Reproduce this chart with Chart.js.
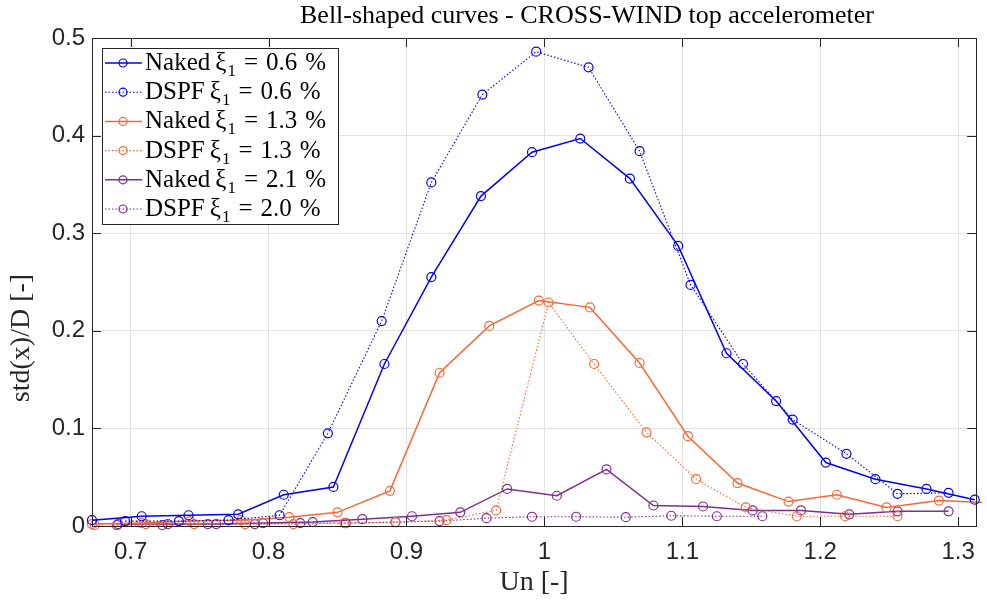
<!DOCTYPE html>
<html>
<head>
<meta charset="utf-8">
<title>Bell-shaped curves - CROSS-WIND top accelerometer</title>
<script src="https://cdn.jsdelivr.net/npm/chart.js@4.4.1/dist/chart.umd.min.js"></script>
<style>
  html, body { margin: 0; padding: 0; background: #fff; }
  #wrap { width: 987px; height: 603px; position: relative; }
</style>
</head>
<body>
<div id="wrap"><canvas id="graphic"></canvas></div>
<script>
// values
const xNaked06 = [0.672, 0.708, 0.742, 0.778, 0.811, 0.847, 0.884, 0.918, 0.954, 0.991, 1.026, 1.062, 1.097, 1.132, 1.168, 1.204, 1.240, 1.277, 1.312]
const yNaked06 = [0.006, 0.010, 0.011, 0.012, 0.032, 0.040, 0.166, 0.255, 0.338, 0.383, 0.397, 0.356, 0.287, 0.177, 0.128, 0.065, 0.048, 0.038, 0.027]

const xDspf06 = [0.696, 0.735, 0.771, 0.808, 0.843, 0.882, 0.918, 0.955, 0.994, 1.032, 1.069, 1.106, 1.144, 1.180, 1.219, 1.256, 1.293]
const yDspf06 = [0.005, 0.005, 0.006, 0.011, 0.095, 0.210, 0.352, 0.442, 0.486, 0.470, 0.384, 0.247, 0.166, 0.109, 0.074, 0.033, 0.034]

const xNaked13 = [0.672, 0.708, 0.743, 0.780, 0.815, 0.850, 0.888, 0.924, 0.960, 0.996, 1.033, 1.069, 1.104, 1.140, 1.177, 1.212, 1.248, 1.286, 1.321]
const yNaked13 = [0.002, 0.003, 0.005, 0.006, 0.009, 0.014, 0.036, 0.157, 0.205, 0.231, 0.224, 0.167, 0.092, 0.044, 0.025, 0.032, 0.019, 0.026, 0.024]

const xDspf13 = [0.674, 0.711, 0.746, 0.783, 0.818, 0.855, 0.892, 0.929, 0.965, 1.003, 1.036, 1.074, 1.110, 1.146, 1.183, 1.218, 1.256]
const yDspf13 = [0.001, 0.002, 0.002, 0.002, 0.002, 0.003, 0.004, 0.006, 0.016, 0.229, 0.166, 0.096, 0.048, 0.019, 0.010, 0.010, 0.010]

const xNaked21 = [0.691, 0.727, 0.762, 0.796, 0.832, 0.868, 0.904, 0.939, 0.973, 1.009, 1.045, 1.079, 1.115, 1.151, 1.186, 1.221, 1.256, 1.293]
const yNaked21 = [0.002, 0.002, 0.002, 0.003, 0.004, 0.007, 0.010, 0.014, 0.038, 0.031, 0.058, 0.021, 0.020, 0.016, 0.016, 0.012, 0.015, 0.015]

const xDspf20 = [0.690, 0.723, 0.756, 0.790, 0.823, 0.856, 0.892, 0.924, 0.958, 0.991, 1.023, 1.059, 1.092, 1.125, 1.158]
const yDspf20 = [0.001, 0.001, 0.002, 0.002, 0.003, 0.003, 0.004, 0.005, 0.008, 0.0095, 0.0095, 0.009, 0.0105, 0.010, 0.010]

const xTicks = [0.7, 0.8, 0.9, 1.0, 1.1, 1.2, 1.3]
const yTicks = [0, 0.1, 0.2, 0.3, 0.4, 0.5]
const seriesNames = ['Naked', 'DSPF', 'Naked', 'DSPF', 'Naked', 'DSPF']
const dampings = ['0.6', '0.6', '1.3', '1.3', '2.1', '2.0']
const chartTitle = 'Bell-shaped curves - CROSS-WIND top accelerometer'
const xLabel = 'Un [-]'
const yLabel = 'std(x)/D [-]'

const BLUE = '#0000ff'
const ORANGE = '#ff6633'
const PURPLE = '#7e2f8e'
const INK = '#262626'

const makeSet = (xs, ys, color, dotted, i) => ({
  label: `${seriesNames[i]} ξ₁ = ${dampings[i]} %`,
  data: xs.map((x, k) => ({x, y: ys[k]})),
  borderColor: color,
  borderWidth: dotted ? 1.1 : 1.5,
  borderDash: dotted ? [1.5, 2] : [],
  pointRadius: 4.5,
  pointBorderWidth: 1.2,
  pointBorderColor: color,
  pointBackgroundColor: 'rgba(0,0,0,0)',
  tension: 0,
  clip: 6
})

// MATLAB style box with inward ticks
const axesFrame = {
  id: 'axesFrame',
  afterDatasetsDraw(chart) {
    const {ctx, chartArea: a, scales: {x, y}} = chart
    ctx.save()
    ctx.strokeStyle = INK
    ctx.lineWidth = 1
    ctx.beginPath()
    x.ticks.forEach(t => {
      const px = Math.round(x.getPixelForValue(t.value)) + 0.5
      ctx.moveTo(px, a.bottom); ctx.lineTo(px, a.bottom - 9)
      ctx.moveTo(px, a.top); ctx.lineTo(px, a.top + 9)
    })
    y.ticks.forEach(t => {
      const py = Math.round(y.getPixelForValue(t.value)) + 0.5
      ctx.moveTo(a.left, py); ctx.lineTo(a.left + 9, py)
      ctx.moveTo(a.right, py); ctx.lineTo(a.right - 9, py)
    })
    ctx.stroke()
    ctx.strokeRect(Math.round(a.left) + 0.5, Math.round(a.top) + 0.5, Math.round(a.right - a.left), Math.round(a.bottom - a.top))
    ctx.restore()
  }
}

// title, y label and boxed legend (with subscript) drawn on the canvas
const decorations = {
  id: 'decorations',
  afterDraw(chart) {
    const {ctx, chartArea: a} = chart
    ctx.save()
    ctx.fillStyle = '#000'
    ctx.textAlign = 'center'
    ctx.textBaseline = 'alphabetic'
    ctx.font = '26px "Liberation Serif"'
    ctx.fillText(chartTitle, 587, 23)

    ctx.save()
    ctx.translate(22, 338)
    ctx.rotate(-Math.PI / 2)
    ctx.fillStyle = INK
    ctx.textBaseline = 'middle'
    ctx.font = '28px "Liberation Serif"'
    ctx.fillText(yLabel, 0, 0)
    ctx.restore()

    const left = a.left + 10, top = a.top + 10, w = 236, h = 176, pitch = 29.2
    ctx.fillStyle = '#fff'
    ctx.fillRect(left, top, w, h)
    ctx.strokeStyle = INK
    ctx.lineWidth = 1
    ctx.strokeRect(Math.round(left) + 0.5, Math.round(top) + 0.5, w, h)

    chart.data.datasets.forEach((ds, i) => {
      const ly = top + 15 + i * pitch
      ctx.strokeStyle = ds.borderColor
      ctx.lineWidth = ds.borderWidth
      ctx.setLineDash(ds.borderDash)
      ctx.beginPath()
      ctx.moveTo(left + 3, ly); ctx.lineTo(left + 40, ly)
      ctx.stroke()
      ctx.setLineDash([])
      ctx.lineWidth = 1.2
      ctx.beginPath()
      ctx.arc(left + 21, ly, 4, 0, Math.PI * 2)
      ctx.stroke()

      ctx.fillStyle = '#000'
      ctx.textAlign = 'left'
      const base = ly + 7
      let tx = left + 43
      const put = (txt, size, dy, gap) => {
        ctx.font = `${size}px "Liberation Serif"`
        ctx.fillText(txt, tx, base + dy)
        tx += ctx.measureText(txt).width + gap
      }
      put(seriesNames[i], 25, 0, 5)
      put('ξ', 25, 0, 1)
      put('1', 17, 6, 8)
      put('=', 25, 0, 8)
      put(dampings[i], 25, 0, 8)
      put('%', 25, 0, 0)
    })
    ctx.restore()
  }
}

new Chart(document.querySelector('#graphic'), {
  type: 'line',
  data: {
    datasets: [
      makeSet(xNaked06, yNaked06, BLUE, false, 0),
      makeSet(xDspf06, yDspf06, BLUE, true, 1),
      makeSet(xNaked13, yNaked13, ORANGE, false, 2),
      makeSet(xDspf13, yDspf13, ORANGE, true, 3),
      makeSet(xNaked21, yNaked21, PURPLE, false, 4),
      makeSet(xDspf20, yDspf20, PURPLE, true, 5)
    ]
  },
  options: {
    responsive: true,
    maintainAspectRatio: false,
    animation: false,
    layout: { padding: { top: 38, right: 4, bottom: 0, left: 0 } },
    plugins: {
      legend: { display: false },
      tooltip: { enabled: false },
      title: { display: false }
    },
    scales: {
      x: {
        type: 'linear',
        min: 0.672,
        max: 1.313,
        afterBuildTicks: s => { s.ticks = xTicks.map(v => ({value: v})) },
        afterFit: s => { s.height = 77 },
        grid: { color: '#e3e3e3', drawTicks: false },
        border: { display: false },
        ticks: {
          padding: 12,
          color: INK,
          font: { family: 'Liberation Sans', size: 24 },
          callback: v => String(+v.toFixed(1))
        },
        title: {
          display: true,
          text: xLabel,
          color: INK,
          font: { family: 'Liberation Serif', size: 28 },
          padding: { top: 0, bottom: 4 }
        }
      },
      y: {
        min: 0,
        max: 0.5,
        afterBuildTicks: s => { s.ticks = yTicks.map(v => ({value: v})) },
        afterFit: s => { s.width = 92 },
        grid: { color: '#e3e3e3', drawTicks: false },
        border: { display: false },
        ticks: {
          padding: 7,
          color: INK,
          font: { family: 'Liberation Sans', size: 24 },
          callback: v => String(+v.toFixed(1))
        }
      }
    }
  },
  plugins: [axesFrame, decorations]
})
</script>
</body>
</html>
